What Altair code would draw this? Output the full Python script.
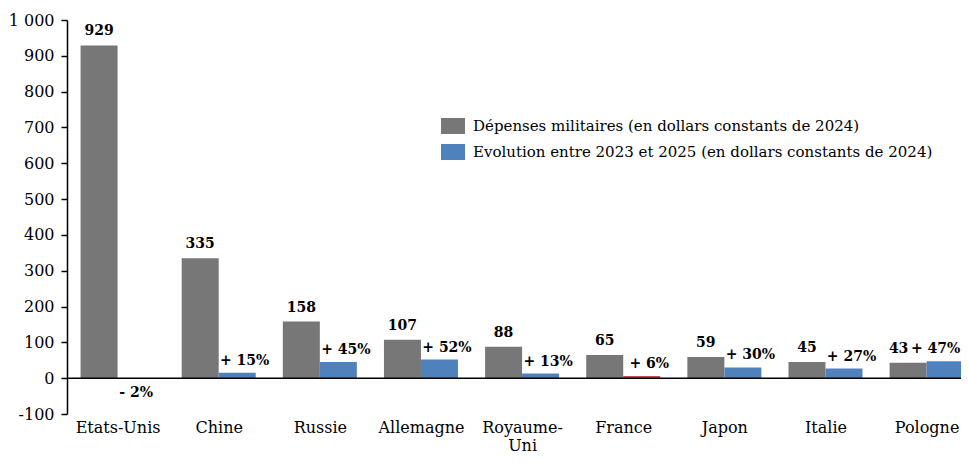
import json
import altair as alt
import pandas as pd

countries = ["Etats-Unis", "Chine", "Russie", "Allemagne", "Royaume-Uni",
             "France", "Japon", "Italie", "Pologne"]
spending = [929, 335, 158, 107, 88, 65, 59, 45, 43]
evolution = [-2, 15, 45, 52, 13, 6, 30, 27, 47]
spending_labels = [str(v) for v in spending]
evolution_labels = ["- 2%", "+ 15%", "+ 45%", "+ 52%", "+ 13%",
                    "+ 6%", "+ 30%", "+ 27%", "+ 47%"]
series_names = ["Dépenses militaires (en dollars constants de 2024)",
                "Evolution entre 2023 et 2025 (en dollars constants de 2024)"]
y_ticks = list(range(-100, 1001, 100))

FONT = "DejaVu Serif"
GREY = "#777777"
BLUE = "#4F81BD"
RED = "#C0504D"

spend_df = pd.DataFrame({"idx": list(range(len(countries))), "pays": countries,
                         "valeur": spending, "label": spending_labels,
                         "serie": series_names[0]})
evo_df = pd.DataFrame({"idx": list(range(len(countries))), "pays": countries,
                       "valeur": evolution, "label": evolution_labels,
                       "serie": series_names[1]})

x_labels = [["Royaume-", "Uni"] if c == "Royaume-Uni" else c for c in countries]
label_expr = json.dumps(x_labels, ensure_ascii=False) + "[datum.value]"

x_enc = alt.X("idx:Q",
              scale=alt.Scale(domain=[-0.5, 8.34], nice=False, zero=False, padding=0),
              axis=alt.Axis(values=list(range(len(countries))), labelExpr=label_expr,
                            domain=False, ticks=False, grid=False, title=None,
                            labelFont=FONT, labelFontSize=16, labelColor="black",
                            labelPadding=5, labelLineHeight=18, labelOverlap=False,
                            labelFlush=False))
y_enc = alt.Y("valeur:Q",
              scale=alt.Scale(domain=[-100, 1000], nice=False, padding=0),
              axis=alt.Axis(values=y_ticks, labelOverlap=False, labelFlush=False,
                            tickCount=12,
                            labelExpr="datum.value == 1000 ? '1 000' : toString(datum.value)",
                            grid=False, title=None, labelFont=FONT, labelFontSize=16,
                            labelColor="black", domainColor="black", domainWidth=1.5,
                            tickColor="black", tickWidth=1.5, tickSize=6, labelPadding=7))

color_scale = alt.Scale(domain=series_names, range=[GREY, BLUE])
legend = alt.Legend(orient="none", legendX=378, legendY=98, title=None,
                    symbolType="M-1.5,-1H1.5V1H-1.5Z", symbolSize=256,
                    symbolStrokeWidth=0, symbolOpacity=1,
                    labelFont=FONT, labelFontSize=15, labelColor="black",
                    labelOffset=12, rowPadding=10, padding=0, labelLimit=600)

bars_spend = alt.Chart(spend_df).mark_bar(width=37, xOffset=-18.5).encode(
    x=x_enc, y=y_enc,
    color=alt.Color("serie:N", scale=color_scale, legend=legend))

bars_evo = alt.Chart(evo_df).mark_bar(width=37, xOffset=18.5).encode(
    x=x_enc, y=y_enc,
    color=alt.condition(alt.datum.pays == "France", alt.value(RED),
                        alt.Color("serie:N", scale=color_scale, legend=legend)))

zero = alt.Chart(pd.DataFrame({"valeur": [0]})).mark_rule(
    color="black", strokeWidth=1.5).encode(y=y_enc)

txt = dict(font=FONT, fontWeight="bold", fontSize=14, color="black")

text_spend = alt.Chart(spend_df).transform_filter("datum.idx < 8").mark_text(
    baseline="bottom", dy=-7, xOffset=-18.5, **txt).encode(
    x=x_enc, y=y_enc, text="label:N")

text_spend_last = alt.Chart(spend_df).transform_filter("datum.idx == 8").mark_text(
    baseline="bottom", dy=-7, xOffset=-28, **txt).encode(
    x=x_enc, y=y_enc, text="label:N")

text_evo_pos = alt.Chart(evo_df).transform_filter(
    "datum.valeur >= 0 && datum.idx < 8").mark_text(
    baseline="bottom", dy=-5, xOffset=26, **txt).encode(
    x=x_enc, y=y_enc, text="label:N")

text_evo_last = alt.Chart(evo_df).transform_filter("datum.idx == 8").mark_text(
    baseline="bottom", dy=-5, xOffset=9, **txt).encode(
    x=x_enc, y=y_enc, text="label:N")

text_evo_neg = alt.Chart(evo_df).transform_filter("datum.valeur < 0").mark_text(
    baseline="top", dy=7, xOffset=18.5, **txt).encode(
    x=x_enc, y=y_enc, text="label:N")

chart = alt.layer(bars_spend, bars_evo, zero, text_spend, text_spend_last,
                  text_evo_pos, text_evo_last, text_evo_neg).properties(
    width=894, height=394,
    autosize=alt.AutoSizeParams(type="none"),
    padding={"left": 59, "top": 12, "right": 0, "bottom": 42},
    background="white",
).configure_view(stroke=None)

chart.save("out.html", embed_options={"renderer": "svg", "actions": False})
